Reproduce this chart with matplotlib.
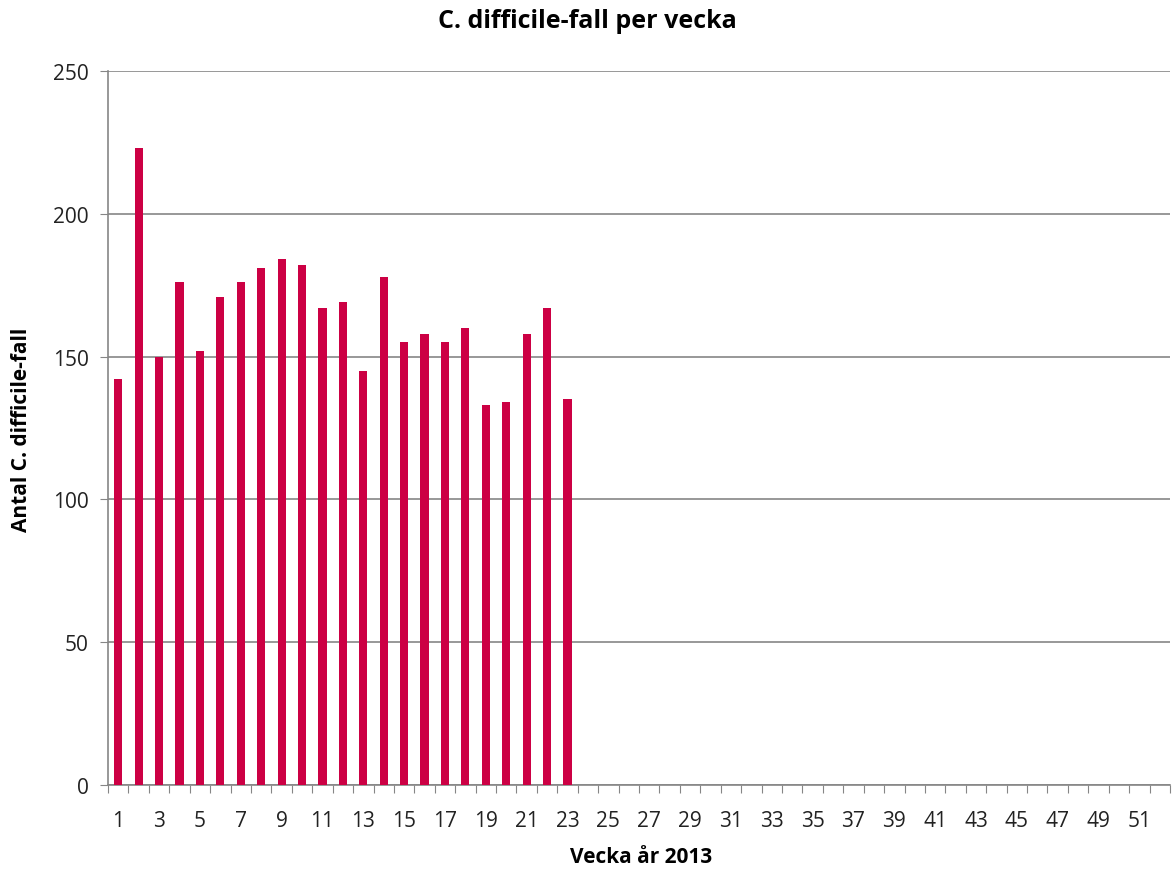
import matplotlib
matplotlib.use("Agg")
import matplotlib.pyplot as plt
import numpy as np

weeks = list(range(1, 53))
cases = [142, 223, 150, 176, 152, 171, 176, 181, 184, 182, 167, 169, 145,
         178, 155, 158, 155, 160, 133, 134, 158, 167, 135]
y_ticks = [0, 50, 100, 150, 200, 250]
x_labels = [str(w) for w in weeks if w % 2 == 1]

plt.rcParams['font.family'] = ['Open Sans', 'DejaVu Sans']

fig = plt.figure(figsize=(11.75, 8.7), dpi=100)
ax = fig.add_axes([108/1175, 1-786/870, (1170-108)/1175, (786-72)/870])

ax.bar(weeks[:len(cases)], cases, width=0.4, color='#CC0044', zorder=3)

ax.set_xlim(0.5, 52.5)
ax.set_ylim(0, 250)
ax.set_yticks(y_ticks)
ax.yaxis.grid(True, color='#868686', linewidth=1.2, zorder=0)
ax.tick_params(axis='y', length=6, color='#868686', labelsize=15, pad=8, labelcolor='#222222')

# tick marks at category boundaries, labels at odd weeks
ax.set_xticks(np.arange(0.5, 53, 1))
ax.set_xticklabels([])
ax.tick_params(axis='x', which='major', length=6, color='#868686')
ax.set_xticks([w for w in weeks if w % 2 == 1], minor=True)
ax.set_xticklabels(x_labels, minor=True)
ax.tick_params(axis='x', which='minor', length=0, labelsize=15, pad=18, labelcolor='#222222')

for s in ['top', 'right']:
    ax.spines[s].set_visible(False)
for s in ['left', 'bottom']:
    ax.spines[s].set_color('#868686')
    ax.spines[s].set_linewidth(1.2)

fig.text(587/1175, 1-22/870, 'C. difficile-fall per vecka', ha='center', va='center',
         fontsize=18, fontweight='bold')
fig.text(641/1175, 1-858/870, 'Vecka år 2013', ha='center', va='center',
         fontsize=15, fontweight='bold')
fig.text(22/1175, 1-430/870, 'Antal C. difficile-fall', ha='center', va='center',
         rotation=90, fontsize=15, fontweight='bold')

fig.savefig('out.png', dpi=100)
